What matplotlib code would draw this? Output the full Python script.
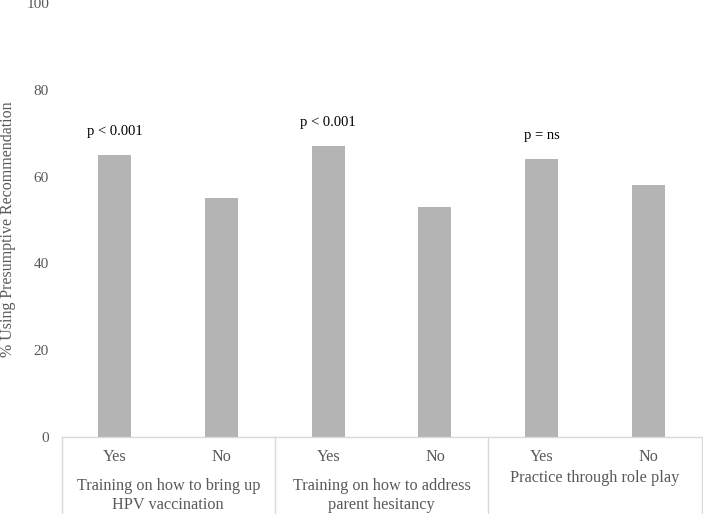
import numpy as np
import matplotlib.pyplot as plt
from matplotlib.lines import Line2D

plt.rcParams["font.family"] = ["Liberation Serif", "DejaVu Serif"]

# Data
sub_labels = ["Yes", "No", "Yes", "No", "Yes", "No"]
group_labels = ["Training on how to bring up\nHPV vaccination",
                "Training on how to address\nparent hesitancy",
                "Practice through role play"]
values = [65, 55, 67, 53, 64, 58]
p_labels = ["p < 0.001", "p < 0.001", "p = ns"]

grey_text = "#595959"
axis_grey = "#d9d9d9"

fig = plt.figure(figsize=(7.03, 5.14), dpi=100)
ax = fig.add_axes([61.6 / 703, 77 / 514, 640 / 703, 434 / 514])

x = np.arange(len(values))
ax.bar(x, values, width=0.31, color="#b4b4b4")

for i, lab in enumerate(p_labels):
    ax.text(2 * i, values[2 * i] + 5.4, lab, ha="center", va="center",
            fontsize=10.5, color="black")

ax.set_xlim(-0.5, len(values) - 0.5)
ax.set_ylim(0, 100)
ax.set_yticks(np.arange(0, 101, 20))
ax.tick_params(axis="y", length=0, labelsize=11, labelcolor=grey_text, pad=9)
ax.set_xticks([])
for s in ["top", "right", "left"]:
    ax.spines[s].set_visible(False)
ax.spines["bottom"].set_color(axis_grey)
ax.spines["bottom"].set_linewidth(1)

ax.set_ylabel("% Using Presumptive Recommendation", fontsize=11.5,
              color=grey_text, va="center")
ax.yaxis.set_label_coords(-0.083, 0.478)

# category labels
trans = ax.get_xaxis_transform()
for i, lab in enumerate(sub_labels):
    ax.text(i, -0.046, lab, transform=trans, ha="center", va="center",
            fontsize=11.7, color=grey_text)
group_y = [-0.135, -0.135, -0.0945]
for g, lab in enumerate(group_labels):
    ax.text(2 * g + 0.5, group_y[g], lab, transform=trans, ha="center",
            va="center", fontsize=11.7, color=grey_text, linespacing=1.2)

# group separators
for b in [-0.5, 1.5, 3.5, 5.5]:
    ax.add_line(Line2D([b, b], [0, -0.2], transform=trans, color=axis_grey,
                       linewidth=1, clip_on=False))

fig.savefig("out.png", dpi=100)
